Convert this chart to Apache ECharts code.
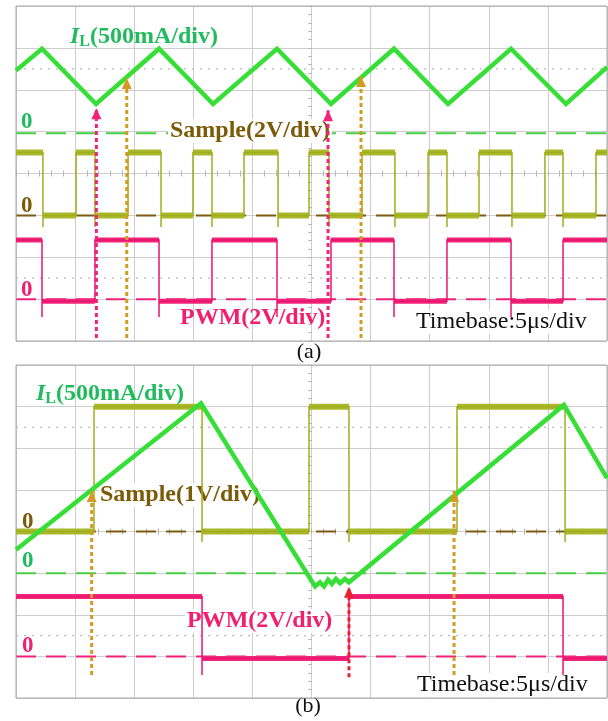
<!DOCTYPE html>
<html><head><meta charset="utf-8">
<script src="https://cdn.jsdelivr.net/npm/echarts@6/dist/echarts.min.js"></script>
<style>html,body{margin:0;padding:0;background:#fff}#c{width:608px;height:721px}</style>
</head><body><div id="c"></div>
<script>
// ================= DATA (time in µs, 5 µs/div) =================
// ---- panel (a) ----
const ilA_t = [0, 2.20, 6.77, 12.10, 16.67, 22.08, 26.65, 31.98, 36.55, 41.88, 46.53, 50];
const ilA_v = [0.75, 1.01, 0.35, 1.01, 0.35, 1.01, 0.35, 1.01, 0.35, 1.01, 0.35, 0.79]; // A
const sampleA_edges = [2.28, 5.08, 6.68, 9.48, 12.27, 14.97, 16.58, 19.29, 22.17, 24.79,
                       26.48, 29.27, 32.06, 34.86, 36.46, 39.17, 41.96, 44.75, 46.28, 49.07];
const sampleA_high = 3.0, sampleA_low = 0.0, sampleA_spike = -0.55;   // V, trace starts high
const pwmA_edges = [2.20, 6.68, 12.10, 16.58, 22.08, 26.65, 31.98, 36.46, 41.88, 46.28];
const pwmA_high = 2.82, pwmA_low = -0.1, pwmA_spike = -0.85;          // V, trace starts high
const arrowsA_t    = [6.80, 9.37, 26.40, 29.19];
const arrowsA_tip  = [1.56, 2.28, 1.51, 2.33];    // screen divisions (-4..4)
const arrowsA_base = [-3.93, -3.93, -3.93, -3.93];
const arrowsA_kind = ['pwm', 'sample', 'pwm', 'sample'];

// ---- panel (b) ----
const ilB_t = [0, 15.65, 25.30, 25.72, 26.06, 26.40, 26.73, 27.07, 27.41, 27.83, 28.17, 46.36, 50];
const ilB_v = [0.28, 2.04, -0.16, -0.11, -0.16, -0.08, -0.13, -0.07, -0.12, -0.07, -0.11, 2.02, 1.14];
const sampleB_edges = [6.60, 15.74, 24.79, 28.17, 37.31, 46.45];
const sampleB_high = 3.0, sampleB_low = 0.0, sampleB_spike = -0.25;   // trace starts low
const pwmB_edges = [15.74, 28.17, 46.28];
const pwmB_high = 2.88, pwmB_low = -0.1, pwmB_spike = -0.9;           // trace starts high
const arrowsB_t    = [6.40, 37.06, 28.17];
const arrowsB_tip  = [0.97, 0.97, -1.33];
const arrowsB_base = [-3.45, -3.45, -3.50];
const arrowsB_kind = ['sample', 'sample', 'red'];

const halfDivLines = [2.5, -2.5];

// ================= STYLE =================
const FONT = "'Liberation Serif','Times New Roman',serif";
const GRIDC = '#cdcdcd', TICKC = '#b5b5b5', BORDERC = '#a8a8a8';
const IL_C = '#36df36', IL_TXT = '#1fbb5c', IL_ZERO = '#44cf44';
const SMP_C = '#9fae1c', SMP_BAND = '#aab92c', SMP_TXT = '#7b5a08', SMP_ZERO = '#7d5b10';
const PWM_C = '#ea146e', PWM_BAND = '#f0257a', PWM_TXT = '#f0206e', PWM_ZERO = '#f0207a';
const ARROW_C = { pwm: '#f2237a', sample: '#d49b22', red: '#e8222c' };

function pairs(t, v) { return t.map((x, i) => [x, v[i]]); }
function stepData(edges, hi, lo, startHigh, spike) {
  let h = startHigh; const pts = [[0, h ? hi : lo]];
  edges.forEach(e => {
    pts.push([e, h ? hi : lo]);
    if (h) { pts.push([e, spike]); }
    h = !h; pts.push([e, h ? hi : lo]);
  });
  pts.push([50, h ? hi : lo]);
  return pts;
}
function bandData(edges, hi, lo, startHigh) {
  let h = startHigh; let s = 0; const pts = [];
  edges.concat([50]).forEach(e => { const l = h ? hi : lo; pts.push([s, l], [e, l], [e, '-']); s = e; h = !h; });
  return pts;
}

function timeAxis(g) {
  return { type: 'value', gridIndex: g, min: 0, max: 50, interval: 5,
    axisLine: { show: false }, axisTick: { show: false }, axisLabel: { show: false },
    splitLine: { show: true, lineStyle: { color: GRIDC, width: 1 } } };
}
function decoX(g, onZeroY, inside) {
  return { type: 'value', gridIndex: g, min: -25, max: 25, interval: 5,
    axisLine: { show: true, onZero: true, onZeroAxisIndex: onZeroY, lineStyle: { color: GRIDC } },
    axisTick: { show: true, inside: inside, length: 3, lineStyle: { color: TICKC } },
    minorTick: { show: true, splitNumber: 5, length: 3, lineStyle: { color: TICKC } },
    axisLabel: { show: false }, splitLine: { show: false } };
}
function divY(g, onZeroX, inside, split) {
  return { type: 'value', gridIndex: g, min: -4, max: 4, interval: 1,
    axisLine: { show: true, onZero: true, onZeroAxisIndex: onZeroX, lineStyle: { color: GRIDC } },
    axisTick: { show: true, inside: inside, length: 3, lineStyle: { color: TICKC } },
    minorTick: { show: true, splitNumber: 5, length: 3, lineStyle: { color: TICKC } },
    axisLabel: { show: false }, splitLine: { show: split, lineStyle: { color: GRIDC, width: 1 } } };
}
function chanY(g, min, max) { return { type: 'value', gridIndex: g, min: min, max: max, show: false }; }

// x axes: 0 timeA, 1-2 decoA, 3 timeB, 4-5 decoB
const xAxes = [timeAxis(0), decoX(0, 0, false), decoX(0, 0, true),
               timeAxis(1), decoX(1, 5, false), decoX(1, 5, true)];
// y axes: 0-1 divA, 2 IL_A, 3 Sample_A, 4 PWM_A, 5-6 divB, 7 IL_B, 8 Sample_B, 9 PWM_B
const yAxes = [divY(0, 1, false, true), divY(0, 1, true, false),
               chanY(0, -2.48, 1.52), chanY(0, -6, 10), chanY(0, -2, 14),
               divY(1, 4, false, true), divY(1, 4, true, false),
               chanY(1, -1.5, 2.5), chanY(1, -4, 4), chanY(1, -2, 14)];

function lineS(xi, yi, data, color, width, z, type) {
  return { type: 'line', xAxisIndex: xi, yAxisIndex: yi, data: data, symbol: 'none', z: z,
    silent: true, connectNulls: false,
    lineStyle: { color: color, width: width, type: type || 'solid', cap: 'butt', join: 'miter' } };
}
function arrowS(xi, yi, t, base, tip, color) {
  return { type: 'line', xAxisIndex: xi, yAxisIndex: yi, z: 6, silent: true,
    symbol: 'triangle', symbolSize: [10, 11], symbolOffset: [0, '50%'], showSymbol: true,
    itemStyle: { color: color }, lineStyle: { color: color, width: 3, type: [4, 3] },
    data: [{ value: [t, base], symbol: 'none' }, { value: [t, tip] }] };
}

const series = [];
function panel(xi, yDiv, yIL, ySmp, yPwm, il, smpE, sHi, sLo, sStart, sSpk, pwmE, pHi, pLo, pStart, pSpk, aT, aTip, aBase, aKind) {
  halfDivLines.forEach(v => series.push(lineS(xi, yDiv, [[0, v], [50, v]], '#bbbbbb', 1.3, 1, [2, 6])));
  series.push(lineS(xi, yIL, [[0, 0], [50, 0]], IL_ZERO, 2, 1, [20, 10]));
  series.push(lineS(xi, ySmp, [[0, 0], [50, 0]], SMP_ZERO, 2, 1, [20, 10]));
  series.push(lineS(xi, yPwm, [[0, 0], [50, 0]], PWM_ZERO, 2, 1, [20, 10]));
  series.push(lineS(xi, ySmp, bandData(smpE, sHi, sLo, sStart), SMP_BAND, 6, 4));
  series.push(lineS(xi, ySmp, stepData(smpE, sHi, sLo, sStart, sSpk), SMP_C, 1.5, 4));
  series.push(lineS(xi, yPwm, bandData(pwmE, pHi, pLo, pStart), PWM_BAND, 5, 4));
  series.push(lineS(xi, yPwm, stepData(pwmE, pHi, pLo, pStart, pSpk), PWM_C, 1.5, 4));
  series.push(lineS(xi, yIL, il, IL_C, 4.5, 5));
  aT.forEach((t, i) => series.push(arrowS(xi, yDiv, t, aBase[i], aTip[i], ARROW_C[aKind[i]])));
}
panel(0, 0, 2, 3, 4, pairs(ilA_t, ilA_v), sampleA_edges, sampleA_high, sampleA_low, true, sampleA_spike,
      pwmA_edges, pwmA_high, pwmA_low, true, pwmA_spike, arrowsA_t, arrowsA_tip, arrowsA_base, arrowsA_kind);
panel(3, 5, 7, 8, 9, pairs(ilB_t, ilB_v), sampleB_edges, sampleB_high, sampleB_low, false, sampleB_spike,
      pwmB_edges, pwmB_high, pwmB_low, true, pwmB_spike, arrowsB_t, arrowsB_tip, arrowsB_base, arrowsB_kind);

// ================= TEXT =================
function txt(x, y, text, color, o) {
  o = o || {};
  return { type: 'text', z: 3, silent: true, style: {
    x: x, y: y, text: text, fill: color, align: o.align || 'left', verticalAlign: 'middle',
    fontFamily: FONT, fontSize: o.size || 24, fontWeight: o.weight || 'bold',
    backgroundColor: o.bg ? '#ffffff' : null, padding: o.bg ? [0, 2] : 0 } };
}
function ilLabel(x, y) {
  return { type: 'text', z: 3, silent: true, style: {
    x: x, y: y, text: '{i|I}{s|L}{n|(500mA/div)}', align: 'left', verticalAlign: 'middle',
    rich: {
      i: { fontFamily: FONT, fontSize: 24, fontWeight: 'bold', fontStyle: 'italic', fill: IL_TXT, lineHeight: 26 },
      s: { fontFamily: FONT, fontSize: 16, fontWeight: 'bold', fill: IL_TXT, lineHeight: 14, verticalAlign: 'bottom' },
      n: { fontFamily: FONT, fontSize: 24, fontWeight: 'bold', fill: IL_TXT, lineHeight: 26 }
    } } };
}
const graphics = [
  ilLabel(70, 37),
  txt(21, 122, '0', IL_TXT, { size: 23 }),
  txt(168, 131, 'Sample(2V/div)', SMP_TXT, { bg: true }),
  txt(21, 206, '0', SMP_TXT, { size: 23 }),
  txt(21, 290, '0', PWM_TXT, { size: 23 }),
  txt(180, 318, 'PWM(2V/div)', PWM_TXT),
  txt(414, 322, 'Timebase:5μs/div', '#111', { weight: 'normal', bg: true }),
  txt(309, 352, '(a)', '#111', { weight: 'normal', size: 22, align: 'center' }),
  ilLabel(36, 394),
  txt(98, 495, 'Sample(1V/div)', SMP_TXT, { bg: true }),
  txt(22, 522, '0', SMP_TXT, { size: 23 }),
  txt(22, 561, '0', IL_TXT, { size: 23 }),
  txt(185, 621, 'PWM(2V/div)', PWM_TXT, { bg: true }),
  txt(22, 646, '0', PWM_TXT, { size: 23 }),
  txt(415, 685, 'Timebase:5μs/div', '#111', { weight: 'normal', bg: true }),
  txt(308, 706, '(b)', '#111', { weight: 'normal', size: 22, align: 'center' })
];

const chart = echarts.init(document.getElementById('c'), null, { renderer: 'canvas' });
chart.setOption({
  animation: false,
  backgroundColor: '#ffffff',
  grid: [
    { left: 16, top: 6, width: 591, height: 335, show: true, borderColor: BORDERC, borderWidth: 1, backgroundColor: 'transparent', z: 4 },
    { left: 16, top: 365, width: 591, height: 333, show: true, borderColor: BORDERC, borderWidth: 1, backgroundColor: 'transparent', z: 4 }
  ],
  xAxis: xAxes,
  yAxis: yAxes,
  series: series,
  graphic: { elements: graphics }
});
</script></body></html>
